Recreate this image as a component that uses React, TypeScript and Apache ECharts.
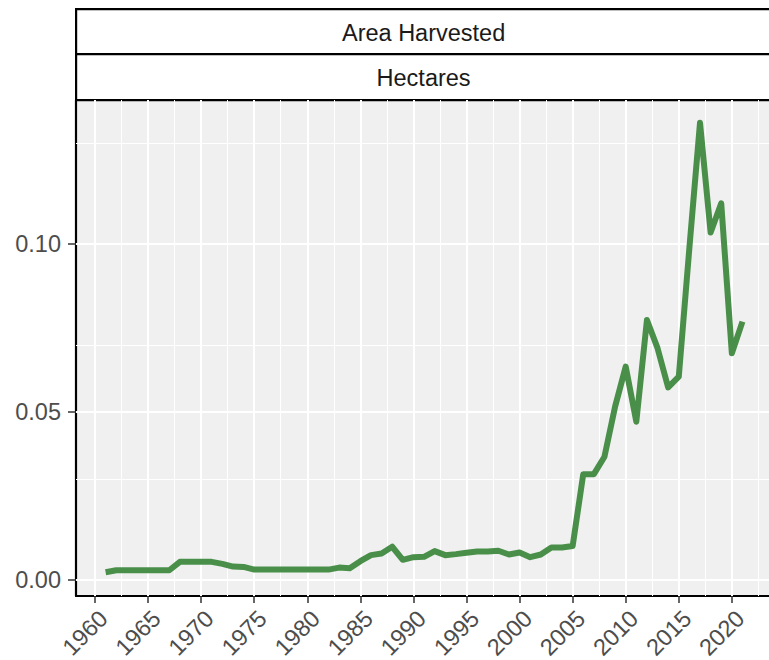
import React, { useEffect, useRef } from "react";
import * as echarts from "echarts";

const years: number[] = [
  1961, 1962, 1963, 1964, 1965, 1966, 1967, 1968, 1969, 1970,
  1971, 1972, 1973, 1974, 1975, 1976, 1977, 1978, 1979, 1980,
  1981, 1982, 1983, 1984, 1985, 1986, 1987, 1988, 1989, 1990,
  1991, 1992, 1993, 1994, 1995, 1996, 1997, 1998, 1999, 2000,
  2001, 2002, 2003, 2004, 2005, 2006, 2007, 2008, 2009, 2010,
  2011, 2012, 2013, 2014, 2015, 2016, 2017, 2018, 2019, 2020,
  2021,
];

const values: number[] = [
  0.0023, 0.0029, 0.0029, 0.0029, 0.0029, 0.0029, 0.0029, 0.0054, 0.0054, 0.0054,
  0.0054, 0.0048, 0.004, 0.0039, 0.0031, 0.0031, 0.0031, 0.0031, 0.0031, 0.0031,
  0.0031, 0.0031, 0.0037, 0.0035, 0.0056, 0.0074, 0.0079, 0.0099, 0.006, 0.0068,
  0.0069, 0.0086, 0.0074, 0.0077, 0.0081, 0.0085, 0.0085, 0.0087, 0.0076, 0.0082,
  0.0068, 0.0076, 0.0097, 0.0097, 0.0101, 0.0315, 0.0315, 0.0367, 0.0516, 0.0635,
  0.0471, 0.0774, 0.069, 0.0573, 0.0605, 0.0989, 0.1361, 0.1034, 0.1121, 0.0675,
  0.0769,
];

const xTicks: number[] = [1960, 1965, 1970, 1975, 1980, 1985, 1990, 1995, 2000, 2005, 2010, 2015, 2020];
const xMinorGrid: number[] = [1962.5, 1967.5, 1972.5, 1977.5, 1982.5, 1987.5, 1992.5, 1997.5, 2002.5, 2007.5, 2012.5, 2017.5, 2022.5];
const yTicks: number[] = [0, 0.05, 0.1];
const yMinorGrid: number[] = [0.025, 0.075, 0.125];

const stripTitles: string[] = ["Area Harvested", "Hectares"];

const X_MIN = 1958.21;
const X_MAX = 2023.5;
const Y_MIN = -0.00476;
const Y_MAX = 0.142857;

const FONT = "'Liberation Sans', Arial, Helvetica, sans-serif";

export default function App() {
  const ref = useRef<HTMLDivElement>(null);

  useEffect(() => {
    if (!ref.current) return;
    const chart = echarts.init(ref.current, null, { renderer: "svg" });
    const data = years.map((y, i) => [y, values[i]]);

    const gridLines = [
      ...xTicks.map((v) => ({ xAxis: v, lineStyle: { width: 2 } })),
      ...xMinorGrid.map((v) => ({ xAxis: v, lineStyle: { width: 1 } })),
      ...yTicks.map((v) => ({ yAxis: v, lineStyle: { width: 2 } })),
      ...yMinorGrid.map((v) => ({ yAxis: v, lineStyle: { width: 1 } })),
    ];

    const left = 76;
    const top = 100;
    const stripTops: number[] = [8, 53];
    const stripHeights: number[] = [45, 46];

    chart.setOption({
      animation: false,
      backgroundColor: "#ffffff",
      textStyle: { fontFamily: FONT },
      grid: {
        left: left,
        top: top,
        right: 0,
        bottom: 64,
        outerBoundsMode: "none",
        containLabel: false,
        show: true,
        backgroundColor: "#F0F0F0",
        borderWidth: 0,
      },
      xAxis: {
        type: "value",
        min: X_MIN,
        max: X_MAX,
        splitLine: { show: false },
        axisLine: { show: true, onZero: false, lineStyle: { color: "#000000", width: 2.2 } },
        axisTick: {
          show: true,
          customValues: xTicks,
          length: 7,
          lineStyle: { color: "#333333", width: 1.5 },
        },
        axisLabel: {
          customValues: xTicks,
          rotate: 45,
          align: "right",
          verticalAlign: "top",
          margin: 10,
          fontSize: 23.5,
          color: "#4D4D4D",
          fontFamily: FONT,
          formatter: (v: number) => String(Math.round(v)),
        },
      },
      yAxis: {
        type: "value",
        min: Y_MIN,
        max: Y_MAX,
        splitLine: { show: false },
        axisLine: { show: true, onZero: false, lineStyle: { color: "#000000", width: 2.2 } },
        axisTick: {
          show: true,
          customValues: yTicks,
          length: 8,
          lineStyle: { color: "#333333", width: 1.5 },
        },
        axisLabel: {
          customValues: yTicks,
          margin: 15,
          fontSize: 23.5,
          color: "#4D4D4D",
          fontFamily: FONT,
          formatter: (v: number) => v.toFixed(2),
        },
      },
      graphic: [
        ...stripTitles.map((t, i) => ({
          type: "group",
          left: left - 1,
          top: stripTops[i],
          children: [
            {
              type: "rect",
              shape: { x: 0, y: 0, width: 769 - left + 10, height: stripHeights[i] },
              style: { fill: "#ffffff", stroke: "#000000", lineWidth: 2.2 },
            },
            {
              type: "text",
              x: (769 - left) / 2 + 1,
              y: stripHeights[i] / 2 + 1,
              style: {
                text: t,
                fill: "#1A1A1A",
                font: "23.5px " + FONT,
                textAlign: "center",
                textVerticalAlign: "middle",
              },
            },
          ],
        })),
      ],
      series: [
        {
          type: "line",
          data: data,
          z: 1,
          silent: true,
          showSymbol: false,
          symbol: "none",
          lineStyle: { opacity: 0, width: 0 },
          markLine: {
            silent: true,
            symbol: "none",
            label: { show: false },
            animation: false,
            lineStyle: { color: "#FFFFFF", type: "solid" },
            data: gridLines,
          },
        },
        {
          type: "line",
          data: data,
          z: 5,
          showSymbol: false,
          symbol: "none",
          lineStyle: { color: "#4A8F49", width: 6, join: "round", cap: "butt" },
        },
      ],
    });

    return () => chart.dispose();
  }, []);

  return (
    <div
      ref={ref}
      style={{ position: "fixed", left: 0, top: 0, width: 769, height: 660 }}
    />
  );
}
